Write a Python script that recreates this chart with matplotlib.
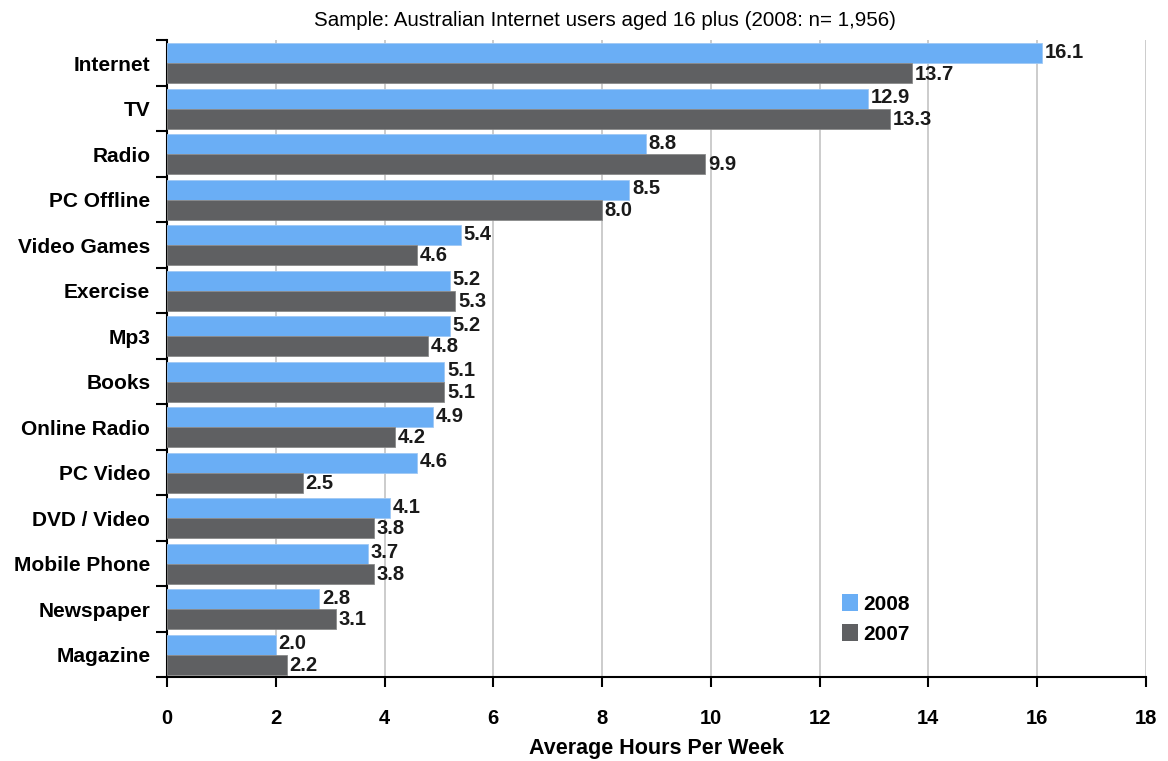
import matplotlib.pyplot as plt
import numpy as np
from matplotlib.patches import Patch

plt.rcParams["font.family"] = ["Liberation Sans", "DejaVu Sans"]

categories = [
    "Internet", "TV", "Radio", "PC Offline", "Video Games", "Exercise", "Mp3",
    "Books", "Online Radio", "PC Video", "DVD / Video", "Mobile Phone",
    "Newspaper", "Magazine",
]
hours_2008 = [16.1, 12.9, 8.8, 8.5, 5.4, 5.2, 5.2, 5.1, 4.9, 4.6, 4.1, 3.7, 2.8, 2.0]
hours_2007 = [13.7, 13.3, 9.9, 8.0, 4.6, 5.3, 4.8, 5.1, 4.2, 2.5, 3.8, 3.8, 3.1, 2.2]

BLUE = "#6aaef5"
GREY = "#5f6062"

fig = plt.figure(figsize=(11.68, 7.61), dpi=100)
ax = fig.add_axes([0.143, 0.110, 0.838, 0.837])

n = len(categories)
y = np.arange(n)
bar_h = 0.44

ax.barh(y - bar_h / 2, hours_2008, height=bar_h, color=BLUE, edgecolor="#9fc8f5",
        linewidth=0.6, zorder=3)
ax.barh(y + bar_h / 2, hours_2007, height=bar_h, color=GREY, edgecolor="#8a8a8a",
        linewidth=0.6, zorder=3)

# value labels just past the end of each bar
for i in range(n):
    ax.text(hours_2008[i] + 0.05, y[i] - bar_h / 2 - 0.02, f"{hours_2008[i]:.1f}",
            va="center", ha="left", fontsize=14.5, fontweight="bold", color="#1a1a1a")
    ax.text(hours_2007[i] + 0.05, y[i] + bar_h / 2 + 0.02, f"{hours_2007[i]:.1f}",
            va="center", ha="left", fontsize=14.5, fontweight="bold", color="#1a1a1a")

ax.set_ylim(n - 0.5, -0.5)
ax.set_xlim(0, 18)
ax.set_xticks(range(0, 19, 2))
ax.tick_params(axis="x", labelsize=14.5, length=7, width=1.5, direction="out", pad=16)
for lbl in ax.get_xticklabels():
    lbl.set_fontweight("bold")

# category names sit between boundary ticks
ax.set_yticks(np.arange(-0.5, n, 1.0))
ax.set_yticklabels([])
ax.set_yticks(y, minor=True)
ax.set_yticklabels(categories, minor=True, fontsize=15, fontweight="bold")
ax.tick_params(axis="y", which="major", length=8, width=1.5, direction="out")
ax.tick_params(axis="y", which="minor", length=0, pad=12)

ax.xaxis.grid(True, color="#c8c8c8", linewidth=1.3, zorder=0)
ax.set_axisbelow(True)
for side in ("top", "right"):
    ax.spines[side].set_visible(False)
ax.spines["left"].set_linewidth(1.5)
ax.spines["bottom"].set_linewidth(1.5)

ax.set_xlabel("Average Hours Per Week", fontsize=15.5, fontweight="bold", labelpad=7)
ax.set_title("Sample: Australian Internet users aged 16 plus (2008: n= 1,956)",
             fontsize=14.8, x=0.447, pad=10)

handles = [Patch(facecolor=BLUE, label="2008"), Patch(facecolor=GREY, label="2007")]
ax.legend(handles=handles, loc="upper left", bbox_to_anchor=(0.69, 0.13),
          borderaxespad=0, borderpad=0, frameon=False, handlelength=0.75,
          handleheight=0.85, handletextpad=0.25, labelspacing=0.5,
          prop={"size": 15, "weight": "bold"})

fig.savefig("out.png", dpi=100)
